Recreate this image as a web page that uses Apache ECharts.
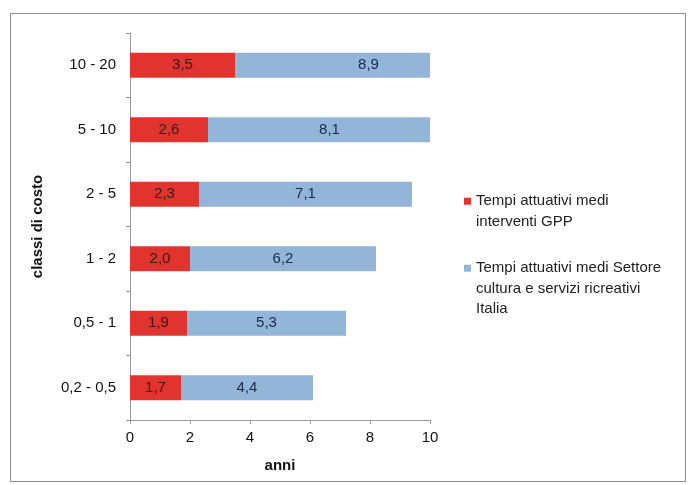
<!DOCTYPE html>
<html>
<head>
<meta charset="utf-8">
<script src="https://cdn.jsdelivr.net/npm/echarts@6/dist/echarts.min.js"></script>
<style>
  html, body { margin: 0; padding: 0; background: #fff; }
  #main { width: 690px; height: 485px; }
</style>
</head>
<body>
<div id="main"></div>
<script>
var categorie = ['0,2 - 0,5', '0,5 - 1', '1 - 2', '2 - 5', '5 - 10', '10 - 20'];
var tempiGPP = [1.7, 1.9, 2.0, 2.3, 2.6, 3.5];
var tempiSettore = [4.4, 5.3, 6.2, 7.1, 8.1, 8.9];
var nomeGPP = 'Tempi attuativi medi\ninterventi GPP';
var nomeSettore = 'Tempi attuativi medi Settore\ncultura e servizi ricreativi\nItalia';
var asseMax = 10;

var myChart = echarts.init(document.getElementById('main'));
var font = 'Liberation Sans, Arial, sans-serif';

function virgola(p) {
    return p.value.toFixed(1).replace('.', ',');
}

// legend: square on the first line of a multi-line name
function legenda(nome, top, h) {
    return {
        orient: 'vertical',
        left: 464,
        top: top,
        padding: 0,
        itemWidth: 7,
        itemHeight: h,
        icon: 'path://M0,0h7v7h-7z M0,' + h + 'h0.001',
        textStyle: { fontSize: 15, color: '#222', lineHeight: 20.5, fontFamily: font },
        data: [nome]
    };
}

var option = {
    animation: false,
    textStyle: { fontFamily: font },
    graphic: [{
        type: 'rect',
        shape: { x: 10.5, y: 13.5, width: 675, height: 468 },
        style: { fill: 'none', stroke: '#8c8c8c', lineWidth: 1 },
        silent: true
    }],
    grid: { left: 130, right: 260, top: 33, bottom: 65 },
    legend: [
        legenda(nomeGPP, 191, 27.5),
        legenda(nomeSettore, 258, 48)
    ],
    xAxis: {
        type: 'value',
        min: 0,
        max: asseMax,
        interval: 2,
        name: 'anni',
        nameLocation: 'middle',
        nameGap: 38,
        nameTextStyle: { fontSize: 15, fontWeight: 'bold', color: '#111' },
        axisLine: { show: true, lineStyle: { color: '#999' } },
        axisTick: { show: true, length: 4, lineStyle: { color: '#999' } },
        axisLabel: { fontSize: 15, color: '#111', margin: 10 },
        splitLine: { show: false }
    },
    yAxis: {
        type: 'category',
        data: categorie,
        name: 'classi di costo',
        nameLocation: 'middle',
        nameRotate: 90,
        nameGap: 85,
        nameTextStyle: { fontSize: 15, fontWeight: 'bold', color: '#111' },
        axisLine: { show: true, lineStyle: { color: '#999' } },
        axisTick: { show: true, length: 4, lineStyle: { color: '#999' } },
        axisLabel: { fontSize: 15, color: '#111', margin: 14 }
    },
    series: [{
        name: nomeGPP,
        type: 'bar',
        stack: 'tempi',
        barWidth: 25,
        itemStyle: { color: '#e2342e' },
        label: {
            show: true,
            position: 'inside',
            fontSize: 15,
            color: '#3a1818',
            formatter: virgola
        },
        data: tempiGPP
    }, {
        name: nomeSettore,
        type: 'bar',
        stack: 'tempi',
        barWidth: 25,
        itemStyle: { color: '#92b5d8' },
        label: {
            show: true,
            position: 'inside',
            fontSize: 15,
            color: '#1b2a4a',
            formatter: virgola
        },
        data: tempiSettore
    }]
};

myChart.setOption(option);

// the label of a clipped bar stays at the middle of the whole (unclipped) bar
var datiSettore = tempiSettore.map(function (v, i) {
    var inizio = tempiGPP[i];
    var fine = inizio + v;
    if (fine <= asseMax) return v;
    var px = function (x) { return myChart.convertToPixel({ xAxisIndex: 0 }, x); };
    var dx = px((inizio + fine) / 2) - px((inizio + asseMax) / 2);
    return { value: v, label: { offset: [dx, 0] } };
});
myChart.setOption({ series: [{}, { data: datiSettore }] });
</script>
</body>
</html>
